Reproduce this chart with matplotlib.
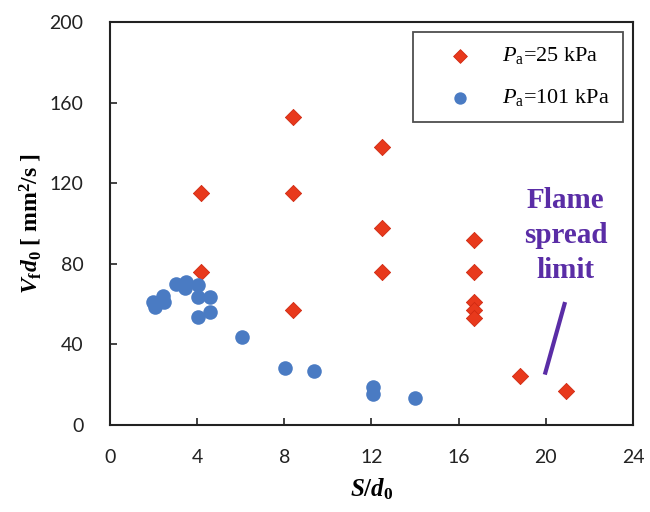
"""Flame spread rate vs. droplet spacing at two ambient pressures."""

import matplotlib

matplotlib.use("Agg")
import matplotlib.pyplot as plt

# P_a = 25 kPa (red diamonds)
s25 = [4.2, 4.2, 8.4, 8.4, 8.4, 12.5, 12.5, 12.5, 16.7, 16.7, 16.7, 16.7, 16.7, 18.8, 20.9]
v25 = [115, 76, 153, 115, 57, 138, 98, 76, 92, 76, 61, 57, 53, 24.5, 17]

# P_a = 101 kPa (blue circles)
s101 = [2.0, 2.05, 2.45, 2.5, 3.05, 3.5, 3.45, 4.05, 4.05, 4.6, 4.05, 4.6,
        6.05, 8.05, 9.35, 12.05, 12.05, 14.0]
v101 = [61, 58.5, 64, 61, 70, 71, 68, 69.5, 63.5, 63.5, 53.5, 56,
        43.5, 28.5, 27, 19, 15.5, 13.5]

limit_line_x = [20.88, 19.95]
limit_line_y = [61, 25]

plt.rcParams["font.family"] = ["Lato", "DejaVu Sans"]
plt.rcParams["mathtext.fontset"] = "custom"
plt.rcParams["mathtext.rm"] = "Liberation Serif"
plt.rcParams["mathtext.it"] = "Liberation Serif:italic"
plt.rcParams["mathtext.bf"] = "Liberation Serif:bold"
plt.rcParams["mathtext.bfit"] = "Liberation Serif:bold:italic"

fig = plt.figure(figsize=(6.5, 5.12), dpi=100)
ax = fig.add_axes([0.169, 0.170, 0.805, 0.787])

ax.scatter(s25, v25, marker="D", s=68, color="#E8391C", edgecolor="#D02A12",
           linewidth=0.6, zorder=3, label=r"$P_\mathrm{a}$=25 kPa")
ax.scatter(s101, v101, marker="o", s=110, color="#4A7BC3", edgecolor="#4A7BC3",
           linewidth=0, zorder=3, label=r"$P_\mathrm{a}$=101 kPa")

ax.plot(limit_line_x, limit_line_y, color="#5A2DA6", linewidth=3, solid_capstyle="butt")
ax.text(20.9, 94, "Flame\nspread\nlimit", color="#5A2DA6", fontsize=21,
        fontweight="bold", family="Liberation Serif", ha="center", va="center",
        linespacing=1.38)

ax.set_xlim(0, 24)
ax.set_ylim(0, 200)
ax.set_xticks(range(0, 25, 4))
ax.set_yticks(range(0, 201, 40))
ax.tick_params(direction="in", length=5, width=1.2, labelsize=14,
               colors="#222222")
ax.tick_params(axis="y", pad=19)
ax.tick_params(axis="x", pad=17)
for spine in ax.spines.values():
    spine.set_linewidth(1.5)
    spine.set_color("#222222")

ax.set_xlabel(r"$\mathbfit{S}$/$\mathbfit{d}_\mathbf{0}$", fontsize=18,
              family="Liberation Serif", fontweight="bold", labelpad=8)
ax.set_ylabel(r"$\mathbfit{V}_\mathbf{f}\mathbfit{d}_\mathbf{0}$ [ mm$^\mathbf{2}$/s ]",
              fontsize=17, family="Liberation Serif", fontweight="bold", labelpad=4)

leg = ax.legend(loc="upper right", prop={"family": "Liberation Serif", "size": 16},
                frameon=True, fancybox=False, edgecolor="#222222",
                labelspacing=0.95, borderaxespad=0.45, handletextpad=0.4,
                borderpad=0.6, handlelength=3.0, scatterpoints=1,
                markerscale=0.85)
leg.get_frame().set_linewidth(1.3)

fig.savefig("out.png", dpi=100, facecolor="white")
